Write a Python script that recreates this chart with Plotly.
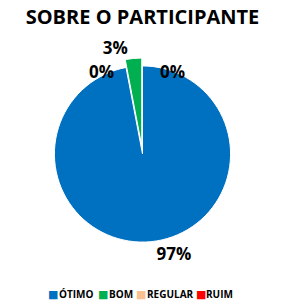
import plotly.graph_objects as go

categories = ["ÓTIMO", "BOM", "REGULAR", "RUIM"]
values = [97, 3, 0, 0]
colors = ["#0070C0", "#00B050", "#FAC090", "#FF0000"]
pulls = [0, 0.09, 0, 0]

W, H = 285, 304
MT, MB = 28, 24
total = sum(values)
pct = [f"{round(v / total * 100)}%" for v in values]
slice_text = [t if v > 0 else "" for t, v in zip(pct, values)]

FONT = "Open Sans, Arial"
lab_font = dict(family=FONT, size=17, color="black", weight="bold")


def pfy(y):
    return (H - MB - y) / (H - MT - MB)


def px(x, y):
    return dict(x=x / W, y=pfy(y), xref="paper", yref="paper")


fig = go.Figure()
fig.add_trace(go.Pie(
    labels=categories,
    values=values,
    marker=dict(colors=colors, line=dict(color="white", width=1)),
    pull=pulls,
    sort=False,
    direction="clockwise",
    rotation=0,
    text=slice_text,
    textinfo="text",
    textposition="outside",
    textfont=lab_font,
    showlegend=False,
    domain=dict(x=[0.0, 1.0], y=[pfy(250), pfy(58)]),
    hoverinfo="label+percent",
))

# labels for zero-value slices (RUIM left, REGULAR right)
zero_pos = {"RUIM": (70, 58), "REGULAR": (200, 58)}
for cat, (x, y) in zero_pos.items():
    i = categories.index(cat)
    fig.add_annotation(**px(x, y), text=pct[i], showarrow=False, font=lab_font)

# legend as text
legend_x = [26, 91, 141, 218]
for cat, col, x in zip(categories, colors, legend_x):
    fig.add_annotation(**px(x, 294), text="■", showarrow=False, xanchor="center", yanchor="middle",
                       font=dict(family="DejaVu Sans", size=11, color=col))
    fig.add_annotation(**px(x + 5, 294), text=f"<b>{cat}</b>", showarrow=False, xanchor="left",
                       yanchor="middle", font=dict(family=FONT, size=10, color="black"))

fig.update_layout(
    width=W, height=H,
    margin=dict(l=0, r=0, t=MT, b=MB),
    paper_bgcolor="white",
    plot_bgcolor="white",
    title=dict(text="<b>SOBRE O PARTICIPANTE</b>", x=0.5, xanchor="center",
               yref="container", y=1 - 17 / H, yanchor="middle",
               font=dict(family=FONT, size=20, color="black")),
)

fig.write_html("out.html")
